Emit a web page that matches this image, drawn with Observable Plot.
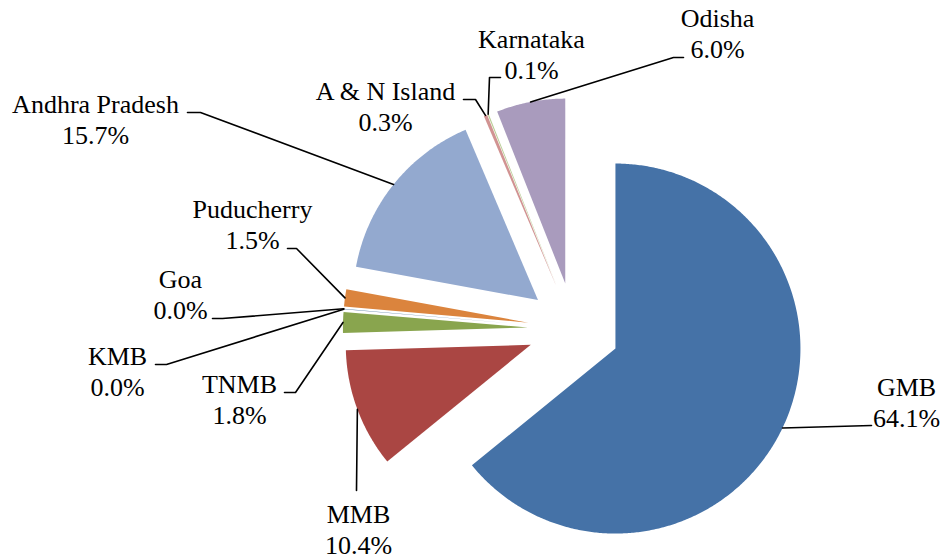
<!DOCTYPE html>
<html><head><meta charset="utf-8">
<script src="https://cdn.jsdelivr.net/npm/d3@7"></script>
<script src="https://cdn.jsdelivr.net/npm/@observablehq/plot@0.6"></script>
<style>
body{margin:0;background:#fff}
</style>
</head><body><div id="chart"></div>
<script>
// ---- data ----
const regions = ["GMB","MMB","TNMB","KMB","Goa","Puducherry","Andhra Pradesh","A & N Island","Karnataka","Odisha"];
const shares  = [64.1, 10.4, 1.8, 0.03, 0.02, 1.5, 15.7, 0.3, 0.1, 6.0];
const colors  = ["#4572A7","#AA4643","#89A54E","#71588F","#4198AF","#DB843D","#93A9CF","#D19392","#B9CD96","#A99BBD"];

// ---- label layout (page pixels): centre x, baseline of the second line, leader start & elbow ----
const labelX = [906, 358, 239, 117, 180, 252, 95, 385, 531, 717];
const labelY = [426, 553, 423, 395, 318, 248, 143, 130, 78, 57];
const leaderStart = [[871,425],[356,490],[284,392],[155,364],[212,318],[287,248],[187,112],[463,99],[500,77],[683,57]];
const leaderElbow = [[871,425],[356,490],[295,392],[166,364],[222,318],[296,248],[200,112],[475,99],[489,77],[673,57]];

// ---- geometry ----
const W = 944, H = 560;
const CX = 573.4, CY = 328.3, R = 185, EXPLODE = 46;
const SERIF = "'Liberation Serif', Tinos, 'Times New Roman', serif";

const arcs = d3.pie().sort(null).value(d => d)(shares);
const slicePts = [];
const leaderPts = [];
const labels = [];
arcs.forEach((a, i) => {
  const name = regions[i];
  const am = (a.startAngle + a.endAngle) / 2;
  const ax = CX + EXPLODE * Math.sin(am), ay = CY - EXPLODE * Math.cos(am);
  slicePts.push({name, x: ax, y: ay});
  const n = Math.max(2, Math.ceil((a.endAngle - a.startAngle) / (Math.PI / 360)));
  for (let k = 0; k <= n; k++) {
    const t = a.startAngle + (a.endAngle - a.startAngle) * k / n;
    slicePts.push({name, x: ax + R * Math.sin(t), y: ay - R * Math.cos(t)});
  }
  const mx = ax + R * Math.sin(am), my = ay - R * Math.cos(am);
  leaderPts.push({name, x: leaderStart[i][0], y: leaderStart[i][1]});
  leaderPts.push({name, x: leaderElbow[i][0], y: leaderElbow[i][1]});
  leaderPts.push({name, x: mx, y: my});
  labels.push({name, x: labelX[i], y: labelY[i], text: name + "\n" + shares[i].toFixed(1) + "%"});
});

const chart = Plot.plot({
  width: W, height: H,
  margin: 0,
  x: {domain: [0, W], range: [0, W], axis: null},
  y: {domain: [0, H], range: [0, H], axis: null},
  color: {domain: regions, range: colors},
  style: {background: "#fff", fontFamily: SERIF, fontSize: "26px"},
  marks: [
    Plot.line(slicePts, {x: "x", y: "y", z: "name", fill: "name", stroke: "none"}),
    Plot.line(leaderPts, {x: "x", y: "y", z: "name", stroke: "#000", strokeWidth: 1.6}),
    Plot.text(labels, {x: "x", y: "y", text: "text", fontSize: 26, fontFamily: SERIF,
      lineAnchor: "bottom", lineHeight: 1.17, textAnchor: "middle", fill: "#000"})
  ]
});
chart.style.setProperty("font-family", SERIF, "important");
chart.querySelectorAll("text, tspan").forEach(t => t.style.setProperty("font-family", SERIF, "important"));
document.getElementById("chart").appendChild(chart);
</script>
</body></html>
